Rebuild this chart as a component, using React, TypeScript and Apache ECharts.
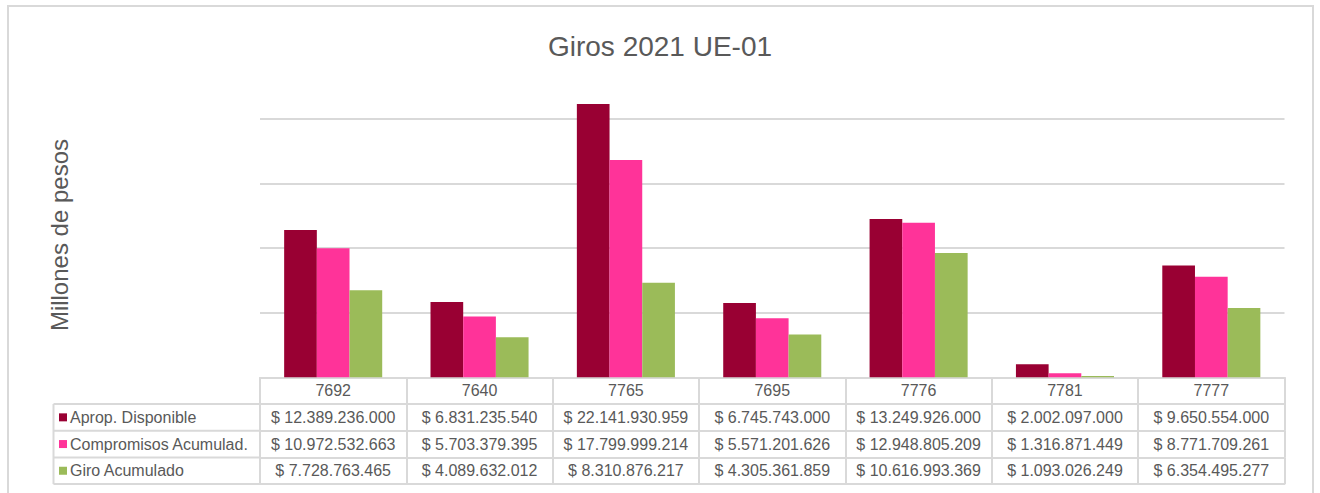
import React, { useEffect, useRef } from "react";
import * as echarts from "echarts";

const categories = ["7692", "7640", "7765", "7695", "7776", "7781", "7777"];
const seriesNames = ["Aprop. Disponible", "Compromisos Acumulad.", "Giro Acumulado"];
const aprop = [12389236000, 6831235540, 22141930959, 6745743000, 13249926000, 2002097000, 9650554000];
const compromisos = [10972532663, 5703379395, 17799999214, 5571201626, 12948805209, 1316871449, 8771709261];
const giro = [7728763465, 4089632012, 8310876217, 4305361859, 10616993369, 1093026249, 6354495277];
const colors = ["#990033", "#FF3399", "#9BBB59"];
const yMin = 1000000000;
const yMax = 23000000000;
const yInterval = 5000000000;

const TEXT = "#595959";
const LINE = "#d9d9d9";
const FONT = "'Liberation Sans', Arial, sans-serif";

function fmt(v: number): string {
  return "$ " + String(Math.round(v)).replace(/\B(?=(\d{3})+(?!\d))/g, ".");
}

export default function App() {
  const ref = useRef<HTMLDivElement>(null);
  useEffect(() => {
    if (!ref.current) return;
    const chart = echarts.init(ref.current, undefined, { renderer: "svg" });
    const allSeries = [aprop, compromisos, giro];
    const rowH = 26.7;
    const gridLeft = 260;
    const gridRight = 1284.5;
    const axisY = 377.3;
    const tableLeft = 53.5;

    const baseAxis = (i: number, labelFn: ((v: string, idx: number) => string) | null) => ({
      type: "category",
      data: categories,
      gridIndex: 0,
      position: "bottom",
      offset: i * rowH,
      boundaryGap: true,
      axisLine: { show: true, lineStyle: { color: LINE, width: 2 } },
      axisTick: labelFn ? { show: true, length: rowH, lineStyle: { color: LINE, width: 2 } } : { show: false },
      axisLabel: labelFn
        ? {
            show: true,
            margin: 4.5,
            fontSize: 16,
            lineHeight: 18,
            color: TEXT,
            fontFamily: FONT,
            interval: 0,
            formatter: labelFn,
          }
        : { show: false },
      splitLine: { show: false },
    });

    const xAxes = [
      baseAxis(0, (v: string) => v),
      baseAxis(1, (_v: string, idx: number) => fmt(aprop[idx])),
      baseAxis(2, (_v: string, idx: number) => fmt(compromisos[idx])),
      baseAxis(3, (_v: string, idx: number) => fmt(giro[idx])),
      baseAxis(4, null),
    ];

    const legends = seriesNames.map((n, i) => ({
      data: [n],
      left: 59,
      top: axisY + rowH * (i + 1) + rowH / 2 - 9,
      padding: 0,
      icon: "rect",
      itemWidth: 8,
      itemHeight: 8,
      selectedMode: false,
      textStyle: { fontSize: 16, color: TEXT, fontFamily: FONT, lineHeight: 18, padding: [0, 0, 0, -2] },
    }));

    const graphics: any[] = [
      {
        type: "rect",
        shape: { x: 8, y: 6, width: 1305, height: 600 },
        style: { fill: "none", stroke: LINE, lineWidth: 2 },
        silent: true,
      },
    ];
    for (let r = 1; r <= 4; r++) {
      const y = axisY + r * rowH;
      graphics.push({
        type: "line",
        shape: { x1: tableLeft, y1: y, x2: gridLeft, y2: y },
        style: { stroke: LINE, lineWidth: 2 },
        silent: true,
      });
    }
    graphics.push({
      type: "line",
      shape: { x1: tableLeft, y1: axisY + rowH, x2: tableLeft, y2: axisY + 4 * rowH },
      style: { stroke: LINE, lineWidth: 2 },
      silent: true,
    });

    chart.setOption({
      animation: false,
      backgroundColor: "#ffffff",
      title: {
        text: "Giros 2021 UE-01",
        left: "center",
        top: 27,
        textStyle: { fontSize: 28, fontWeight: "normal", color: TEXT, fontFamily: FONT },
      },
      legend: legends,
      grid: {
        left: gridLeft,
        right: 1320 - gridRight,
        top: axisY - (yMax - yMin) / (yInterval / 64.65),
        bottom: 493 - axisY,
        containLabel: false,
        outerBoundsMode: "none",
      },
      xAxis: xAxes,
      yAxis: {
        type: "value",
        min: yMin,
        max: yMax,
        interval: yInterval,
        name: "Millones de pesos",
        nameLocation: "middle",
        nameGap: 189,
        nameRotate: 90,
        nameTextStyle: { fontSize: 24, color: TEXT, fontFamily: FONT },
        axisLine: { show: false },
        axisTick: { show: false },
        axisLabel: { show: false },
        splitLine: {
          show: true,
          showMinLine: false,
          showMaxLine: false,
          lineStyle: { color: LINE, width: 2 },
        },
      },
      series: allSeries.map((d, i) => ({
        type: "bar",
        name: seriesNames[i],
        data: d,
        xAxisIndex: 0,
        yAxisIndex: 0,
        barGap: "0%",
        barCategoryGap: "33%",
        clip: true,
        itemStyle: { color: colors[i] },
        emphasis: { disabled: true },
      })),
      graphic: graphics,
    });
    return () => chart.dispose();
  }, []);
  return (
    <div
      ref={ref}
      style={{ position: "absolute", left: 0, top: 0, width: 1320, height: 493 }}
    />
  );
}
